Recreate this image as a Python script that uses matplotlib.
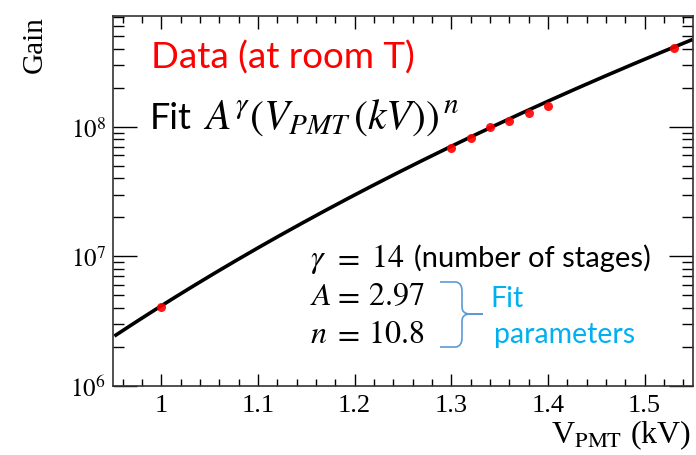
import numpy as np
import matplotlib
matplotlib.use("Agg")
import matplotlib.pyplot as plt
from matplotlib.path import Path
from matplotlib.patches import PathPatch
from matplotlib.ticker import MultipleLocator, LogLocator, NullFormatter

# ---- data ----
voltage_kv = [1.00, 1.30, 1.32, 1.34, 1.36, 1.38, 1.40, 1.53]
gain = [4.05e6, 6.9e7, 8.2e7, 1.0e8, 1.11e8, 1.28e8, 1.45e8, 4.06e8]

# fit parameters shown in the chart: Gain = A^gamma * V^n
fit_gamma = 14
fit_A = 2.97
fit_n = 10.8
fit_range = [0.953, 1.548]

xticks = [1.0, 1.1, 1.2, 1.3, 1.4, 1.5]
xtick_labels = ["1", "1.1", "1.2", "1.3", "1.4", "1.5"]
yticks = [1e6, 1e7, 1e8]
ytick_labels = [r"$10^{6}$", r"$10^{7}$", r"$10^{8}$"]

plt.rcParams["mathtext.fontset"] = "stix"
W, H = 696, 456
fig = plt.figure(figsize=(W / 100, H / 100), dpi=100)
ax = fig.add_axes([113 / W, 1 - 387 / H, (693 - 113) / W, (387 - 17) / H])

vf = np.linspace(fit_range[0], fit_range[1], 300)
ax.plot(vf, fit_A ** fit_gamma * vf ** fit_n, color="black", lw=2.6, zorder=2)
ax.plot(voltage_kv, gain, "o", color="#ff0000", ms=6.5, mec="none", zorder=3, alpha=0.9)

ax.set_yscale("log")
ax.set_xlim(0.95, 1.55)
ax.set_ylim(1e6, 10 ** 8.854)

serif = "Liberation Serif"
ax.set_xticks(xticks, xtick_labels, fontfamily=serif, fontsize=19)
ax.set_yticks(yticks, ytick_labels, fontsize=18)
ax.xaxis.set_minor_locator(MultipleLocator(0.02))
ax.yaxis.set_minor_locator(LogLocator(base=10, subs=np.arange(2, 10)))
ax.yaxis.set_minor_formatter(NullFormatter())
ax.tick_params(axis="x", which="major", direction="in", length=9, width=1.0, top=True, pad=6)
ax.tick_params(axis="x", which="minor", direction="in", length=5, width=1.0, top=True)
ax.tick_params(axis="y", which="major", direction="in", length=17, width=1.0, right=True, pad=5)
ax.tick_params(axis="y", which="minor", direction="in", length=8, width=1.0, right=True)
for s in ax.spines.values():
    s.set_linewidth(1.2)
    s.set_color("#333333")

fig.text(35 / W, 1 - 16 / H, "Gain", rotation=90, ha="center", va="top",
         fontfamily=serif, fontsize=21)
fig.text(691 / W, 1 - 452 / H, r"V$_{\mathrm{PMT}}$ (kV)", ha="right", va="bottom",
         fontfamily=serif, fontsize=23)


def ftext(x, y, s, **kw):
    kw.setdefault("va", "baseline")
    return fig.text(x / W, 1 - y / H, s, **kw)


sans = "Lato"
ftext(151, 69, "Data (at room T)", color="#ff0000", fontfamily=sans, fontsize=26.5)

# Fit formula  A^gamma (V_PMT (kV))^n
ftext(150, 129, "Fit", fontfamily=sans, fontsize=26)
ftext(203, 129, r"$A^{\gamma}\left(V_{PMT}\,(kV)\right)^{\,n}$", fontsize=30)

# parameter block
rows_y = [267, 305, 343]
ftext(310, rows_y[0], r"$\gamma$", fontsize=23)
ftext(310, rows_y[1], r"$A$", fontsize=23)
ftext(310, rows_y[2], r"$n$", fontsize=23)
for yy in rows_y:
    ftext(333, yy, r"$=$", fontsize=23)
ftext(371, rows_y[0], r"$14$", fontsize=23)
ftext(368, rows_y[1], r"$2.97$", fontsize=23)
ftext(368, rows_y[2], r"$10.8$", fontsize=23)
ftext(414, rows_y[0], "(number of stages)", fontfamily=sans, fontsize=21)
ftext(490, 307, "Fit", color="#00b0f0", fontfamily=sans, fontsize=20.5)
ftext(494, 343, "parameters", color="#00b0f0", fontfamily=sans, fontsize=20.5)

# brace
def P(x, y):
    return (x, H - y)
verts = [P(440, 283), P(456, 283), P(462, 284), P(462, 292),
         P(462, 308), P(462, 315), P(470, 315), P(483, 315),
         P(470, 315), P(462, 315), P(462, 322),
         P(462, 339), P(462, 347), P(456, 348), P(440, 348)]
codes = [Path.MOVETO, Path.LINETO, Path.CURVE3, Path.CURVE3,
         Path.LINETO, Path.CURVE3, Path.CURVE3, Path.LINETO,
         Path.LINETO, Path.CURVE3, Path.CURVE3,
         Path.LINETO, Path.CURVE3, Path.CURVE3, Path.LINETO]
brace = PathPatch(Path(verts, codes), facecolor="none", edgecolor="#5b9bd5", lw=1.2,
                  transform=None)
fig.patches.append(brace)

fig.savefig("out.png", dpi=100)
